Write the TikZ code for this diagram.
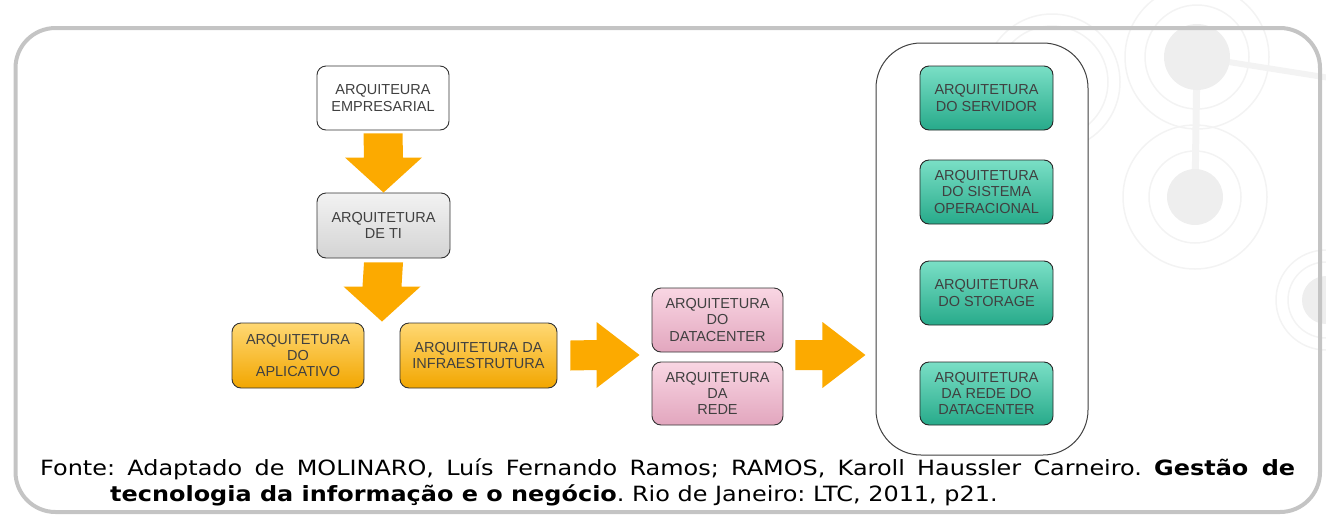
\documentclass[tikz,border=0pt]{standalone}
\usepackage{fontspec}
\setmainfont{Liberation Sans}
\newfontfamily\capfont[FakeStretch=1.14]{DejaVu Sans}
\usetikzlibrary{calc}
\definecolor{arrowc}{HTML}{FCAA00}
\definecolor{framec}{HTML}{C4C4C4}
\definecolor{boxtext}{HTML}{404040}
\definecolor{wm}{HTML}{EEEEEE}
\definecolor{wmring}{HTML}{F3F3F3}
\definecolor{orangetop}{HTML}{FFD873}
\definecolor{orangemid}{HTML}{FBBE2E}
\definecolor{orangebot}{HTML}{F2A600}
\definecolor{HTMLpinktop}{HTML}{F9D6E3}
\definecolor{HTMLpinkbot}{HTML}{E2A6BE}
\definecolor{tealtop}{HTML}{7ADFC6}
\definecolor{tealmid}{HTML}{3EC4A2}
\definecolor{tealbot}{HTML}{27AA8A}
\tikzset{
  archbox/.style={rounded corners=9pt, draw=black!80, line width=0.9pt, align=center,
    inner sep=0pt, text=boxtext, font=\fontsize{14.5}{16.3}\selectfont},
  whitebox/.style={archbox, fill=white},
  graybox/.style={archbox, top color=white!95!black, bottom color=black!17},
  orangebox/.style={archbox, top color=orangetop, middle color=orangemid, bottom color=orangebot},
  pinkbox/.style={archbox, top color=HTMLpinktop, bottom color=HTMLpinkbot},
  tealbox/.style={archbox, draw=black!85, top color=tealtop, middle color=tealmid, bottom color=tealbot},
  container/.style={draw=black!75, line width=1pt, rounded corners=45pt, fill=white},
  blockarrow/.style={fill=arrowc},
}
\newcommand\blkdown[2]{%
  \fill[blockarrow] ($(#1)+(-19.5,0)$) -- ($(#1)+(19.5,0)$) -- ($(#2)+(19.5,-35)$) -- ($(#2)+(38.5,-35)$)
    -- (#2) -- ($(#2)+(-38.5,-35)$) -- ($(#2)+(-19.5,-35)$) -- cycle;}
\newcommand\blkright[2]{%
  \fill[blockarrow] ($(#1)+(0,-15)$) -- ($(#1)+(0,15)$) -- ($(#2)+(-43,15)$) -- ($(#2)+(-43,33)$)
    -- (#2) -- ($(#2)+(-43,-33)$) -- ($(#2)+(-43,-15)$) -- cycle;}
\begin{document}
\begin{tikzpicture}[x=1pt,y=-1pt]
\useasboundingbox (0,0) rectangle (1326,523);
% faint background watermark
\begin{scope}
\clip (0,0) rectangle (1326,523);
\draw[wmring, line width=7pt] (1197,57) -- (1195,195);
\draw[wmring, line width=6pt] (1197,57) -- (1330,78);
\fill[wm] (1197,57) circle (33);
\draw[wmring, line width=1.5pt] (1197,57) circle (52) (1197,57) circle (72);
\fill[wm] (1195,197) circle (28);
\draw[wmring, line width=1.5pt] (1195,197) circle (46) (1195,197) circle (72);
\fill[wm] (1326,300) circle (24);
\draw[wmring, line width=1.5pt] (1326,300) circle (38) (1326,300) circle (50);
\draw[wmring, line width=1.5pt] (1052,82) circle (56) (1052,82) circle (68);
\end{scope}
% frame
\draw[framec, line width=4pt, rounded corners=40pt] (15.5,28) rectangle (1320,512);
% nodes
\node[whitebox, minimum width=132pt, minimum height=64pt] (emp) at (383,98) {ARQUITEURA\\EMPRESARIAL};
\node[graybox, minimum width=133pt, minimum height=65pt] (ti) at (383.5,225.5) {ARQUITETURA\\DE TI};
\node[orangebox, minimum width=132pt, minimum height=65pt] (apl) at (298,355.5) {ARQUITETURA\\DO\\APLICATIVO};
\node[orangebox, minimum width=157pt, minimum height=65pt] (infra) at (478.5,355.5) {ARQUITETURA DA\\INFRAESTRUTURA};
\node[pinkbox, minimum width=131pt, minimum height=64pt] (dc) at (717.5,320) {ARQUITETURA\\DO\\DATACENTER};
\node[pinkbox, minimum width=131pt, minimum height=63pt] (rede) at (717.5,393.5) {ARQUITETURA\\DA\\REDE};
\node[container, minimum width=212pt, minimum height=412pt] (cont) at (982,249) {};
\node[tealbox, minimum width=133pt, minimum height=64pt] (srv) at (986.5,98) {ARQUITETURA\\DO SERVIDOR};
\node[tealbox, minimum width=133pt, minimum height=64pt] (so) at (986.5,192) {ARQUITETURA\\DO SISTEMA\\OPERACIONAL};
\node[tealbox, minimum width=133pt, minimum height=64pt] (sto) at (986.5,293) {ARQUITETURA\\DO STORAGE};
\node[tealbox, minimum width=133pt, minimum height=63pt] (red) at (986.5,393.5) {ARQUITETURA\\DA REDE DO\\DATACENTER};
% arrows
\coordinate (a1s) at ($(emp.south)+(0,3)$);
\coordinate (a2s) at ($(ti.south)+(0,4)$);
\coordinate (a2t) at ($(apl.north east)!0.5!(infra.north west)+(0,-1)$);
\coordinate (a3s) at ($(infra.east)+(13,0)$);
\coordinate (a3t) at ($(dc.south west)!0.5!(rede.north west)+(-12,-2)$);
\coordinate (a4s) at ($(dc.south east)!0.5!(rede.north east)+(12,-2)$);
\coordinate (a4t) at ($(a4s)+(70,0)$);
\blkdown{a1s}{ti.north}
\blkdown{a2s}{a2t}
\blkright{a3s}{a3t}
\blkright{a4s}{a4t}
% caption
\node[anchor=north west, text width=1255pt, align=justify, inner sep=0pt,
  font=\capfont\fontsize{21}{26}\selectfont] (cap) at (40,458)
  {\frenchspacing\hangindent=70pt\hangafter=1 Fonte: Adaptado de MOLINARO, Luís Fernando Ramos; RAMOS, Karoll Haussler Carneiro. \textbf{Gestão de}\linebreak \textbf{tecnologia da informação e o negócio}. Rio de Janeiro: LTC, 2011, p21.\par};
\end{tikzpicture}
\end{document}
